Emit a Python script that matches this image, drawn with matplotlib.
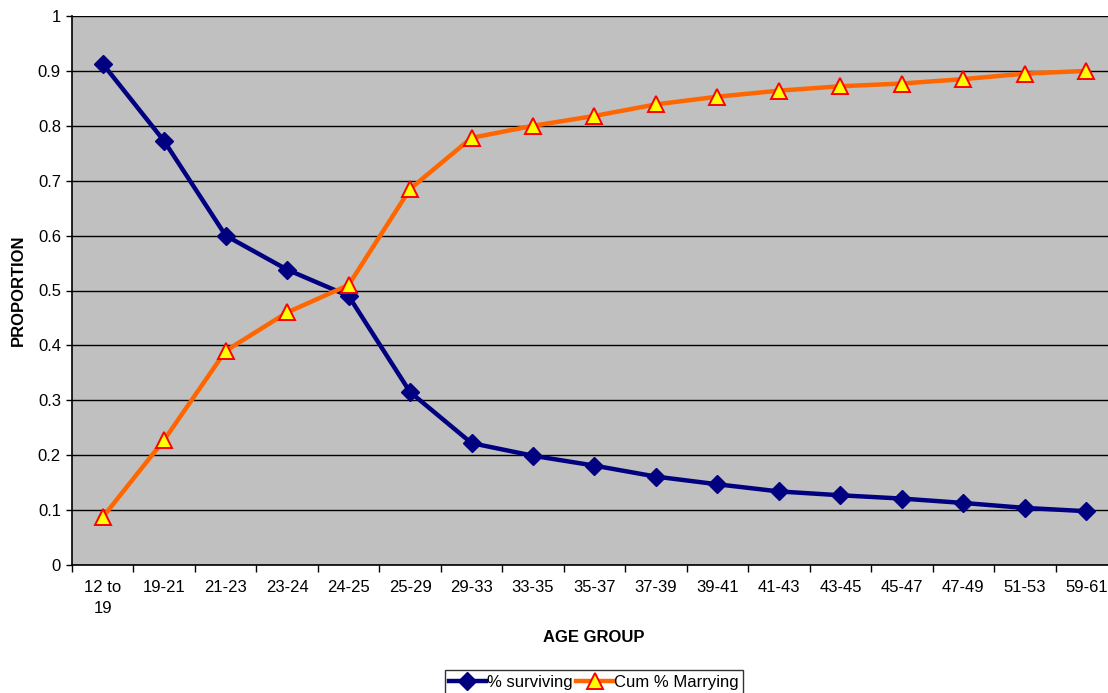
import matplotlib.pyplot as plt

# Age groups and the two series
age_groups = ["12 to\n19", "19-21", "21-23", "23-24", "24-25", "25-29", "29-33", "33-35",
              "35-37", "37-39", "39-41", "41-43", "43-45", "45-47", "47-49", "51-53", "59-61"]
surviving = [0.913, 0.772, 0.600, 0.538, 0.490, 0.315, 0.222, 0.199, 0.181,
             0.161, 0.147, 0.134, 0.127, 0.121, 0.113, 0.104, 0.098]
marrying = [0.087, 0.228, 0.390, 0.460, 0.510, 0.685, 0.778, 0.800, 0.818,
            0.839, 0.853, 0.864, 0.872, 0.877, 0.885, 0.895, 0.900]

plt.rcParams['font.family'] = ['Liberation Sans', 'DejaVu Sans']

fig = plt.figure(figsize=(11.08, 6.93), dpi=100)
W, H = 1108, 693
ax = fig.add_axes([72 / W, (H - 565) / H, (1117 - 72) / W, 549 / H])
ax.set_facecolor('#C0C0C0')

x = list(range(len(age_groups)))
ax.plot(x, surviving, color='#000080', lw=3.2, marker='D', ms=9,
        mfc='#000080', mec='#000080', label='% surviving', zorder=3)
ax.plot(x, marrying, color='#FF6600', lw=3.2, marker='^', ms=12,
        mfc='#FFFF00', mec='#FF0000', mew=1.4, label='Cum % Marrying', zorder=4)

ax.set_xlim(-0.5, len(age_groups) - 0.5)
ax.set_ylim(0, 1)
yt = [i / 10 for i in range(11)]
ax.set_yticks(yt)
ax.set_yticklabels(['0' if v == 0 else ('1' if v == 1 else f'{v:.1f}') for v in yt],
                   fontsize=12)
ax.yaxis.grid(True, color='black', lw=1)
ax.set_axisbelow(True)

ax.set_xticks([i + 0.5 for i in range(-1, len(age_groups))])
ax.set_xticklabels([])
ax.set_xticks(x, minor=True)
ax.set_xticklabels(age_groups, minor=True, fontsize=12, linespacing=1.45)
ax.tick_params(axis='x', which='major', direction='out', length=5, width=1)
ax.tick_params(axis='x', which='minor', length=0, pad=11)
ax.tick_params(axis='y', direction='out', length=4, width=1, pad=4)

for s in ['top', 'right']:
    ax.spines[s].set_visible(False)
ax.spines['left'].set_linewidth(1.2)
ax.spines['bottom'].set_linewidth(1.2)

fig.text(594 / W, 1 - 637 / H, 'AGE GROUP', ha='center', va='center',
         fontsize=12, fontweight='bold')
fig.text(18 / W, 1 - 290 / H, 'PROPORTION', ha='center', va='center',
         rotation=90, fontsize=12, fontweight='bold')

leg = fig.legend(loc='center', bbox_to_anchor=(594 / W, 1 - 682 / H), ncol=2,
                 frameon=True, fancybox=False, edgecolor='black',
                 handlelength=2.2, handletextpad=0.1, columnspacing=0.2,
                 borderpad=0.25, borderaxespad=0, prop={'size': 12})
leg.get_frame().set_linewidth(1)

fig.savefig('out.png', dpi=100)
